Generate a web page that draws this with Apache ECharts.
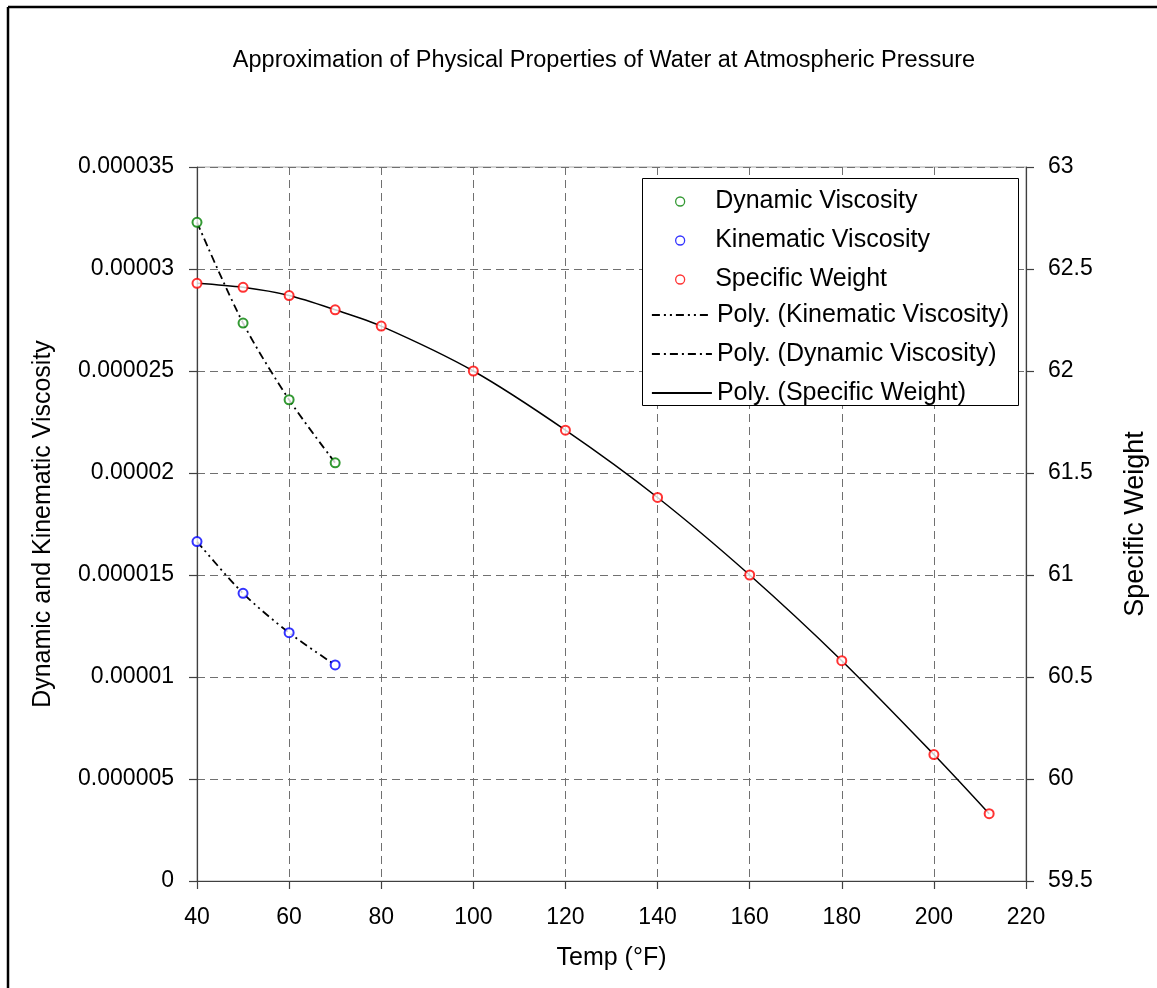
<!DOCTYPE html>
<html>
<head>
<meta charset="utf-8">
<script src="https://cdn.jsdelivr.net/npm/echarts@6/dist/echarts.min.js"></script>
<style>
html,body{margin:0;padding:0;background:#fff;}
#chart{width:1157px;height:988px;}
</style>
</head>
<body>
<div id="chart"></div>
<script>
// ---- data ----
const viscTemps = [40, 50, 60, 70];
const dynamicViscosity = [3.229e-5, 2.735e-5, 2.359e-5, 2.050e-5];
const kinematicViscosity = [1.664e-5, 1.410e-5, 1.217e-5, 1.059e-5];
const weightTemps = [40, 50, 60, 70, 80, 100, 120, 140, 160, 180, 200, 212];
const specificWeight = [62.43, 62.41, 62.37, 62.30, 62.22, 62.00, 61.71, 61.38, 61.00, 60.58, 60.12, 59.83];
const leftTickLabels = ['0', '0.000005', '0.00001', '0.000015', '0.00002', '0.000025', '0.00003', '0.000035'];
const rightTickLabels = ['59.5', '60', '60.5', '61', '61.5', '62', '62.5', '63'];
const xTickLabels = ['40', '60', '80', '100', '120', '140', '160', '180', '200', '220'];

const pairs = (xs, ys) => xs.map((x, i) => [x, ys[i]]);
const FONT = '"Liberation Sans", Arial, sans-serif';
const gridLine = { show: true, lineStyle: { color: '#707070', type: [8, 5], width: 1 } };
const axisLineStyle = { show: true, lineStyle: { color: '#404040', width: 1.2 } };
const tickStyle = { show: true, length: 8, lineStyle: { color: '#404040', width: 1.2 } };
const labelStyle = { color: '#000', fontSize: 23, fontFamily: FONT };
const nameStyle = { fontSize: 25, color: '#000', fontFamily: FONT };
const legendText = { fontSize: 25, lineHeight: 24, color: '#000', fontFamily: FONT };

const chart = echarts.init(document.getElementById('chart'), null, { renderer: 'canvas' });
chart.setOption({
  animation: false,
  backgroundColor: '#fff',
  title: {
    text: 'Approximation of Physical Properties of Water at Atmospheric Pressure',
    left: 599, top: 44, textAlign: 'center',
    textStyle: { fontSize: 23.5, fontWeight: 'normal', color: '#000', fontFamily: FONT }
  },
  grid: { left: 197, right: 130, top: 167, bottom: 107, show: true, borderColor: '#a8a8a8', borderWidth: 1, backgroundColor: 'transparent' },
  xAxis: {
    type: 'value', min: 40, max: 220, interval: 20,
    name: 'Temp (°F)', nameLocation: 'middle', nameGap: 65,
    nameTextStyle: nameStyle,
    axisLine: axisLineStyle, axisTick: tickStyle,
    axisLabel: Object.assign({ margin: 25, formatter: (v, i) => xTickLabels[i] }, labelStyle),
    splitLine: gridLine
  },
  yAxis: [
    {
      type: 'value', min: 0, max: 0.000035, interval: 0.000005, position: 'left',
      name: 'Dynamic and Kinematic Viscosity', nameLocation: 'middle', nameGap: 141,
      nameTextStyle: nameStyle,
      axisLine: axisLineStyle, axisTick: tickStyle,
      axisLabel: Object.assign({ margin: 23, formatter: (v, i) => leftTickLabels[i] }, labelStyle),
      splitLine: gridLine
    },
    {
      type: 'value', min: 59.5, max: 63, interval: 0.5, position: 'right',
      name: 'Specific Weight', nameLocation: 'middle', nameGap: 96,
      nameTextStyle: { fontSize: 27, color: '#000', fontFamily: FONT },
      axisLine: axisLineStyle, axisTick: tickStyle,
      axisLabel: Object.assign({ margin: 22, formatter: (v, i) => rightTickLabels[i] }, labelStyle),
      splitLine: { show: false }
    }
  ],
  legend: [
    {
      orient: 'vertical', left: 675, top: 189, padding: 0, itemGap: 14,
      itemWidth: 60, itemHeight: 9,
      textStyle: legendText,
      data: [
        { name: 'Dynamic Viscosity', icon: 'circle', itemStyle: { color: '#fff', borderColor: '#008000', borderWidth: 1.3 } },
        { name: 'Kinematic Viscosity', icon: 'circle', itemStyle: { color: '#fff', borderColor: '#0000ff', borderWidth: 1.3 } },
        { name: 'Specific Weight', icon: 'circle', itemStyle: { color: '#fff', borderColor: '#ff0000', borderWidth: 1.3 } }
      ]
    },
    {
      orient: 'vertical', left: 651, top: 302.5, padding: 0, itemGap: 14,
      itemWidth: 60, itemHeight: 14,
      textStyle: legendText,
      itemStyle: { color: 'transparent', borderColor: 'transparent', borderWidth: 0, opacity: 0 },
      lineStyle: { width: 1.8 },
      data: ['Poly. (Kinematic Viscosity)', 'Poly. (Dynamic Viscosity)', 'Poly. (Specific Weight)']
    }
  ],
  graphic: [
    { type: 'rect', z: 3, shape: { x: 642.5, y: 178.5, width: 376, height: 227 }, style: { fill: '#fff', stroke: '#000', lineWidth: 1 } },
    { type: 'line', z: 10, shape: { x1: 8, y1: 7, x2: 1157, y2: 7 }, style: { stroke: '#000', lineWidth: 2.5 } },
    { type: 'line', z: 10, shape: { x1: 8, y1: 7, x2: 8, y2: 988 }, style: { stroke: '#000', lineWidth: 2.5 } }
  ],
  series: [
    {
      name: 'Dynamic Viscosity', type: 'scatter', yAxisIndex: 0, z: 5,
      symbol: 'emptyCircle', symbolSize: 9,
      itemStyle: { color: '#008000', borderColor: '#008000', borderWidth: 1.3 },
      data: pairs(viscTemps, dynamicViscosity)
    },
    {
      name: 'Kinematic Viscosity', type: 'scatter', yAxisIndex: 0, z: 5,
      symbol: 'emptyCircle', symbolSize: 9,
      itemStyle: { color: '#0000ff', borderColor: '#0000ff', borderWidth: 1.3 },
      data: pairs(viscTemps, kinematicViscosity)
    },
    {
      name: 'Specific Weight', type: 'scatter', yAxisIndex: 1, z: 5,
      symbol: 'emptyCircle', symbolSize: 9,
      itemStyle: { color: '#ff0000', borderColor: '#ff0000', borderWidth: 1.3 },
      data: pairs(weightTemps, specificWeight)
    },
    {
      name: 'Poly. (Kinematic Viscosity)', type: 'line', yAxisIndex: 0, smooth: 0.3, symbol: 'none',
      color: '#000',
      lineStyle: { color: '#000', width: 1.8, type: [8, 4, 2, 4, 2, 4] },
      data: pairs(viscTemps, kinematicViscosity)
    },
    {
      name: 'Poly. (Dynamic Viscosity)', type: 'line', yAxisIndex: 0, smooth: 0.3, symbol: 'none',
      color: '#000',
      lineStyle: { color: '#000', width: 1.8, type: [8, 4, 2, 4] },
      data: pairs(viscTemps, dynamicViscosity)
    },
    {
      name: 'Poly. (Specific Weight)', type: 'line', yAxisIndex: 1, smooth: 0.3, symbol: 'none',
      color: '#000',
      lineStyle: { color: '#000', width: 1.5, type: 'solid' },
      data: pairs(weightTemps, specificWeight)
    }
  ]
});
</script>
</body>
</html>
